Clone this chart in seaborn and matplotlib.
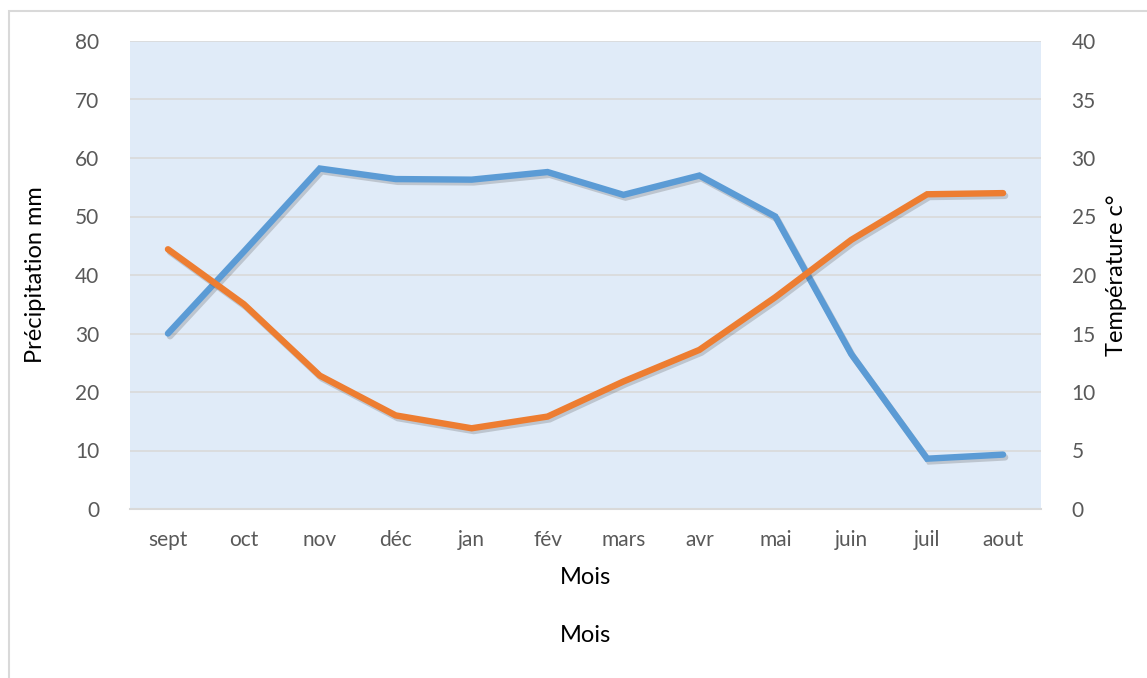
import matplotlib
matplotlib.use("Agg")
import matplotlib.pyplot as plt
import matplotlib.patheffects as pe
from matplotlib.patches import Rectangle
import seaborn as sns
import pandas as pd

# Monthly climate data (September to August)
months = ["sept", "oct", "nov", "déc", "jan", "fév", "mars", "avr", "mai", "juin", "juil", "aout"]
precipitation_mm = [30.0, 44.0, 58.2, 56.4, 56.3, 57.6, 53.7, 57.0, 50.0, 26.5, 8.6, 9.3]
temperature_c = [22.2, 17.5, 11.4, 8.0, 6.9, 7.9, 10.9, 13.6, 18.1, 23.0, 26.9, 27.0]

left_ticks = [0, 10, 20, 30, 40, 50, 60, 70, 80]
right_ticks = [0, 5, 10, 15, 20, 25, 30, 35, 40]

df = pd.DataFrame({
    "mois": months,
    "pos": range(len(months)),
    "precip": precipitation_mm,
    "temp": temperature_c,
})

sns.set_theme(style="white")
plt.rcParams["font.family"] = ["Lato", "DejaVu Sans"]

W, H = 1147, 678
fig = plt.figure(figsize=(W / 100, H / 100), dpi=100)
fig.patch.set_facecolor("white")

# outer chart frame
fig.add_artist(Rectangle((9 / W, -0.1), 1.2, 1 - 11 / H + 0.1, transform=fig.transFigure,
                         fill=False, edgecolor="#d9d9d9", linewidth=1.5))

ax = fig.add_axes([130 / W, 1 - 509 / H, (1041 - 130) / W, (509 - 41) / H])
ax.set_facecolor("#e0ebf8")
ax2 = ax.twinx()

shadow = [pe.SimpleLineShadow(offset=(1.5, -2), shadow_color="#555555", alpha=0.25),
          pe.Normal()]

sns.lineplot(data=df, x="pos", y="precip", ax=ax, color="#5B9BD5", linewidth=4.6,
             solid_capstyle="round", solid_joinstyle="miter", path_effects=shadow, zorder=3)
sns.lineplot(data=df, x="pos", y="temp", ax=ax2, color="#ED7D31", linewidth=4.6,
             solid_capstyle="round", solid_joinstyle="miter", path_effects=shadow, zorder=3)

ax.set_xlim(-0.5, len(months) - 0.5)
ax.set_ylim(0, 80)
ax2.set_ylim(0, 40)
ax.set_yticks(left_ticks)
ax2.set_yticks(right_ticks)
ax.set_xticks(range(len(months)))
ax.set_xticklabels(months)

ax.yaxis.grid(True, color="#d9d9d9", linewidth=1.2)
ax.set_axisbelow(True)
ax2.grid(False)

for a in (ax, ax2):
    for side in ("top", "left", "right", "bottom"):
        a.spines[side].set_visible(False)
ax.spines["bottom"].set_visible(True)
ax.spines["bottom"].set_color("#d9d9d9")
ax.spines["bottom"].set_linewidth(1.5)

tick_color = "#595959"
ax.tick_params(axis="y", length=0, pad=22, labelsize=15, labelcolor=tick_color)
ax2.tick_params(axis="y", length=0, pad=22, labelsize=15, labelcolor=tick_color)
ax.tick_params(axis="x", length=0, pad=15, labelsize=15, labelcolor=tick_color)

ax.set_xlabel("Mois", fontsize=17, color="black", labelpad=12)
ax.set_ylabel("Précipitation mm", fontsize=17, color="black", labelpad=21)
ax2.set_ylabel("Température c°", fontsize=17, color="black", labelpad=7)

fig.text(586 / W, 1 - 635 / H, "Mois", ha="center", va="center", fontsize=17, color="black")

fig.savefig("out.png", dpi=100, facecolor=fig.get_facecolor())
